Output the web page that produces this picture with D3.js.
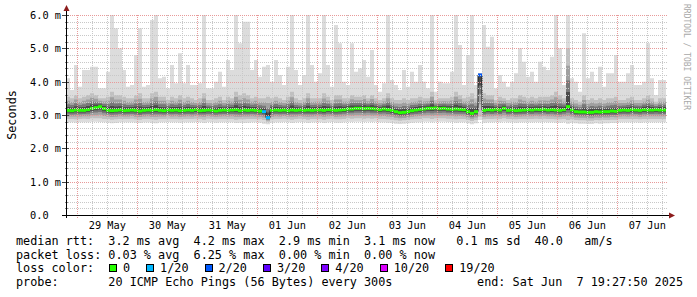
<!DOCTYPE html>
<html lang="en">
<head>
<meta charset="UTF-8">
<title>SmokePing median rtt</title>
<style>
  html, body { margin: 0; background: #fff; }
  text { font-family: 'DejaVu Sans Mono', monospace; fill: #000; white-space: pre; }
</style>
</head>
<body>
<svg id="chart" width="697" height="297" viewBox="0 0 697 297"></svg>
<script src="https://d3js.org/d3.v7.min.js"></script>
<script>

// time window: 10 days ending at the graph end time, columns of 96 minutes
const endTime = new Date(Date.UTC(2025, 5, 7, 19, 27, 50));
const startTime = new Date(endTime.getTime() - 10 * 864e5);
const stepMs = 5760 * 1000;

// ping values in ms, one per column
const maxMs = [
  4.1, 3.75, 4.5, 3.85, 4.35, 4.35, 4.45, 4.45, 3.8, 3.8,
  4.3, 6.0, 5.6, 5.0, 4.35, 3.85, 3.9, 4.8, 5.6, 3.85,
  3.9, 5.85, 6.0, 4.1, 4.15, 3.8, 4.5, 3.95, 4.85, 3.95,
  4.5, 3.9, 3.9, 3.95, 6.0, 3.8, 3.8, 4.0, 4.3, 3.85,
  4.65, 4.35, 6.0, 5.15, 5.8, 5.8, 4.35, 4.65, 4.15, 4.45,
  4.5, 4.0, 4.65, 4.2, 3.9, 4.45, 6.0, 4.35, 3.9, 4.2,
  6.0, 4.5, 4.0, 4.25, 6.0, 4.5, 3.85, 5.7, 5.15, 4.0,
  3.9, 5.15, 4.3, 4.4, 4.65, 4.15, 4.95, 3.9, 3.7, 3.95,
  6.0, 4.05, 3.9, 3.75, 4.35, 3.85, 4.3, 4.0, 4.5, 4.0,
  3.8, 6.0, 3.7, 4.0, 3.95, 3.95, 4.3, 6.0, 5.1, 3.9,
  4.8, 6.0, 3.9, 4.25, 5.7, 5.05, 5.35, 3.8, 4.2, 4.0,
  3.85, 4.0, 4.25, 5.0, 4.6, 4.15, 4.3, 4.0, 4.6, 4.45,
  4.35, 4.75, 6.0, 5.0, 3.9, 6.0, 4.1, 4.0, 3.7, 5.45,
  4.1, 4.3, 4.0, 4.45, 3.85, 4.25, 4.25, 4.8, 4.0, 4.0,
  4.25, 4.5, 3.9, 3.9, 4.0, 5.15, 4.1, 3.6, 4.05, 4.05
];
const hiMs = [
  3.55, 3.5, 3.6, 3.5, 3.55, 3.6, 3.65, 3.6, 3.5, 3.5,
  3.55, 3.7, 3.6, 3.6, 3.55, 3.5, 3.5, 3.6, 3.65, 3.5,
  3.5, 3.65, 3.7, 3.55, 3.55, 3.45, 3.55, 3.5, 3.6, 3.5,
  3.55, 3.5, 3.45, 3.5, 3.65, 3.45, 3.45, 3.5, 3.55, 3.45,
  3.55, 3.5, 3.7, 3.6, 3.65, 3.6, 3.5, 3.55, 3.5, 3.5,
  3.55, 3.5, 3.55, 3.5, 3.45, 3.55, 3.7, 3.5, 3.45, 3.5,
  3.65, 3.5, 3.5, 3.5, 3.65, 3.55, 3.45, 3.6, 3.6, 3.5,
  3.5, 3.6, 3.55, 3.55, 3.6, 3.5, 3.6, 3.5, 3.45, 3.5,
  3.65, 3.5, 3.45, 3.45, 3.5, 3.45, 3.5, 3.5, 3.55, 3.5,
  3.5, 3.7, 3.45, 3.5, 3.5, 3.5, 3.55, 3.7, 3.6, 3.5,
  3.55, 3.65, 3.5, 4.25, 3.65, 3.6, 3.6, 3.45, 3.55, 3.5,
  3.45, 3.5, 3.5, 3.6, 3.55, 3.5, 3.55, 3.5, 3.55, 3.55,
  3.55, 3.6, 3.7, 3.6, 3.5, 5.0, 3.5, 3.45, 3.4, 3.6,
  3.45, 3.5, 3.45, 3.5, 3.45, 3.5, 3.5, 3.55, 3.45, 3.45,
  3.5, 3.55, 3.45, 3.45, 3.5, 3.6, 3.5, 3.4, 3.5, 3.5
];
const medMs = [
  3.14, 3.13, 3.15, 3.14, 3.14, 3.16, 3.2, 3.22, 3.25, 3.19,
  3.14, 3.13, 3.14, 3.15, 3.13, 3.14, 3.15, 3.14, 3.12, 3.14,
  3.15, 3.14, 3.16, 3.14, 3.13, 3.15, 3.14, 3.15, 3.13, 3.14,
  3.15, 3.14, 3.16, 3.13, 3.14, 3.15, 3.14, 3.12, 3.14, 3.15,
  3.14, 3.15, 3.16, 3.13, 3.15, 3.14, 3.15, 3.14, 3.12, 3.1,
  2.92, 3.14, 3.15, 3.14, 3.15, 3.13, 3.15, 3.14, 3.15, 3.14,
  3.15, 3.14, 3.15, 3.15, 3.14, 3.16, 3.15, 3.14, 3.15, 3.16,
  3.18, 3.18, 3.2, 3.2, 3.19, 3.2, 3.19, 3.18, 3.16, 3.18,
  3.16, 3.14, 3.1, 3.07, 3.08, 3.1, 3.13, 3.15, 3.17, 3.18,
  3.2, 3.2, 3.21, 3.19, 3.2, 3.18, 3.17, 3.18, 3.17, 3.16,
  3.1, 3.05, 3.1, 4.2, 3.14, 3.16, 3.15, 3.17, 3.15, 3.2,
  3.14, 3.15, 3.13, 3.14, 3.15, 3.16, 3.15, 3.17, 3.16, 3.17,
  3.15, 3.16, 3.15, 3.14, 3.16, 3.25, 3.15, 3.1, 3.09, 3.09,
  3.08, 3.08, 3.1, 3.09, 3.1, 3.1, 3.12, 3.11, 3.14, 3.15,
  3.14, 3.16, 3.15, 3.14, 3.16, 3.15, 3.15, 3.16, 3.15, 3.15
];
const loMs = [
  2.88, 2.88, 2.87, 2.88, 2.89, 2.88, 2.9, 2.9, 2.9, 2.88,
  2.88, 2.86, 2.87, 2.88, 2.88, 2.88, 2.89, 2.87, 2.86, 2.88,
  2.88, 2.87, 2.86, 2.88, 2.88, 2.89, 2.88, 2.88, 2.87, 2.88,
  2.88, 2.88, 2.89, 2.88, 2.86, 2.89, 2.88, 2.87, 2.88, 2.88,
  2.88, 2.88, 2.86, 2.87, 2.87, 2.88, 2.88, 2.88, 2.87, 2.85,
  2.8, 2.87, 2.88, 2.88, 2.89, 2.88, 2.86, 2.88, 2.89, 2.88,
  2.86, 2.88, 2.88, 2.88, 2.86, 2.88, 2.89, 2.87, 2.87, 2.88,
  2.9, 2.89, 2.9, 2.9, 2.89, 2.9, 2.89, 2.9, 2.88, 2.88,
  2.87, 2.86, 2.84, 2.83, 2.84, 2.85, 2.87, 2.88, 2.88, 2.9,
  2.9, 2.88, 2.9, 2.9, 2.9, 2.89, 2.89, 2.87, 2.88, 2.88,
  2.85, 2.82, 2.85, 2.95, 2.87, 2.88, 2.88, 2.89, 2.88, 2.9,
  2.88, 2.88, 2.87, 2.88, 2.88, 2.88, 2.88, 2.89, 2.88, 2.89,
  2.88, 2.88, 2.87, 2.87, 2.88, 2.85, 2.87, 2.85, 2.84, 2.84,
  2.83, 2.83, 2.85, 2.84, 2.85, 2.85, 2.86, 2.86, 2.88, 2.88,
  2.88, 2.88, 2.88, 2.87, 2.88, 2.88, 2.88, 2.88, 2.88, 2.88
];
const minMs = [
  2.78, 2.78, 2.77, 2.78, 2.78, 2.78, 2.8, 2.8, 2.79, 2.78,
  2.77, 2.75, 2.76, 2.78, 2.78, 2.78, 2.78, 2.77, 2.76, 2.78,
  2.78, 2.76, 2.75, 2.78, 2.78, 2.79, 2.78, 2.78, 2.77, 2.78,
  2.78, 2.78, 2.79, 2.78, 2.76, 2.79, 2.78, 2.77, 2.78, 2.78,
  2.78, 2.78, 2.76, 2.77, 2.76, 2.77, 2.78, 2.78, 2.77, 2.74,
  2.72, 2.77, 2.78, 2.78, 2.79, 2.78, 2.76, 2.78, 2.79, 2.78,
  2.76, 2.78, 2.78, 2.78, 2.76, 2.78, 2.79, 2.77, 2.77, 2.78,
  2.8, 2.79, 2.8, 2.8, 2.79, 2.8, 2.79, 2.8, 2.78, 2.78,
  2.77, 2.76, 2.74, 2.73, 2.74, 2.75, 2.77, 2.78, 2.78, 2.8,
  2.8, 2.78, 2.8, 2.8, 2.8, 2.79, 2.79, 2.77, 2.78, 2.78,
  2.75, 2.72, 2.75, 2.85, 2.77, 2.78, 2.78, 2.79, 2.78, 2.8,
  2.78, 2.78, 2.77, 2.78, 2.78, 2.78, 2.78, 2.79, 2.78, 2.79,
  2.78, 2.78, 2.77, 2.77, 2.78, 2.74, 2.77, 2.75, 2.74, 2.74,
  2.73, 2.73, 2.75, 2.74, 2.75, 2.75, 2.76, 2.76, 2.78, 2.78,
  2.78, 2.78, 2.78, 2.77, 2.78, 2.78, 2.78, 2.78, 2.78, 2.78
];
// [column, lost pings out of 20]
const lossEvents = [[49, 1], [50, 1], [103, 2]];

const lossLabels = ["0", "1/20", "2/20", "3/20", "4/20", "10/20", "19/20"];
const lossLevels = [0, 1, 2, 3, 4, 10, 19];
const lossColors = ["#26ff00", "#00b8ff", "#0059ff", "#5e00ff", "#7e00ff", "#dd00ff", "#ff0000"];

const rttLine = "median rtt:  3.2 ms avg  4.2 ms max  2.9 ms min  3.1 ms now   0.1 ms sd  40.0   am/s";
const lossLine = "packet loss: 0.03 % avg  6.25 % max  0.00 % min  0.00 % now";
const probeLine = "probe:       20 ICMP Echo Pings (56 Bytes) every 300s";
const endLine = "end: Sat Jun  7 19:27:50 2025";

const svg = d3.select("#chart");
const pLeft = 66, pRight = 666, pTop = 15, pBottom = 215;

const x = d3.scaleUtc().domain([startTime, endTime]).range([pLeft, pRight]);
const y = d3.scaleLinear().domain([0, 6]).range([pBottom, pTop]);

const lossByCol = new Map(lossEvents);
const cols = medMs.map((m, i) => ({
  t: new Date(startTime.getTime() + i * stepMs),
  max: maxMs[i], hi: hiMs[i], med: m, lo: loMs[i], min: minMs[i],
  loss: lossByCol.get(i) || 0
}));
// repeat last column to close the step at the end time
const pts = cols.concat([Object.assign({}, cols[cols.length - 1], {t: endTime})]);

svg.append("defs").append("clipPath").attr("id", "plot")
  .append("rect").attr("x", pLeft).attr("y", pTop).attr("width", pRight - pLeft).attr("height", pBottom - pTop);

const plot = svg.append("g").attr("clip-path", "url(#plot)");

// outer smoke: min to max
plot.append("path").datum(pts)
  .attr("fill", "#dcdcdc")
  .attr("d", d3.area().curve(d3.curveStepAfter)
    .x(d => x(d.t)).y0(d => y(d.min)).y1(d => y(d.max)));

// inner smoke layers, darker towards the median
const layers = [
  {f: 1, c: "#c0c0c0"},
  {f: 0.7, c: "#a0a0a0"},
  {f: 0.45, c: "#787878"},
  {f: 0.25, c: "#4a4a4a"}
];
layers.forEach(l => {
  plot.append("path").datum(pts)
    .attr("fill", l.c)
    .attr("d", d3.area().curve(d3.curveStepAfter)
      .x(d => x(d.t))
      .y0(d => y(d.med - l.f * (d.med - d.lo)))
      .y1(d => y(d.med + l.f * (d.hi - d.med))));
});

// median line
plot.append("path").datum(pts)
  .attr("fill", "none").attr("stroke", "#202020").attr("stroke-width", 1)
  .attr("d", d3.line().curve(d3.curveStepAfter).x(d => x(d.t)).y(d => y(d.med)));

function lossColor(n) {
  let c = lossColors[0];
  lossLevels.forEach((lv, i) => { if (n >= lv) c = lossColors[i]; });
  return c;
}

plot.selectAll("rect.med").data(cols).join("rect")
  .attr("class", "med")
  .attr("x", d => x(d.t))
  .attr("width", d => x(new Date(d.t.getTime() + stepMs)) - x(d.t))
  .attr("y", d => y(d.med) - 1.5)
  .attr("height", 3)
  .attr("fill", d => lossColor(d.loss));

// grid on top, dotted
const grid = svg.append("g").attr("shape-rendering", "crispEdges");
const yMajor = y.ticks(6);
const yMinor = d3.range(0, 6.001, 0.2).filter(v => Math.abs(v - Math.round(v)) > 0.01);
const xMajor = d3.utcDay.range(startTime, endTime);
const xMinor = d3.utcHour.every(6).range(startTime, endTime).filter(d => d.getUTCHours() !== 0);

grid.selectAll("line.ymin").data(yMinor).join("line")
  .attr("x1", pLeft).attr("x2", pRight + 2)
  .attr("y1", d => Math.round(y(d)) + 0.5).attr("y2", d => Math.round(y(d)) + 0.5)
  .attr("stroke", "#c8c8c8").attr("stroke-dasharray", "1,1");
grid.selectAll("line.xmin").data(xMinor).join("line")
  .attr("y1", pTop).attr("y2", pBottom + 3)
  .attr("x1", d => Math.round(x(d)) + 0.5).attr("x2", d => Math.round(x(d)) + 0.5)
  .attr("stroke", "#c8c8c8").attr("stroke-dasharray", "1,1");
grid.selectAll("line.ymaj").data(yMajor.filter(v => v > 0)).join("line")
  .attr("x1", pLeft).attr("x2", pRight + 2)
  .attr("y1", d => Math.round(y(d)) + 0.5).attr("y2", d => Math.round(y(d)) + 0.5)
  .attr("stroke", "#e89a9a").attr("stroke-dasharray", "1,1");
grid.selectAll("line.xmaj").data(xMajor).join("line")
  .attr("y1", pTop).attr("y2", pBottom + 3)
  .attr("x1", d => Math.round(x(d)) + 0.5).attr("x2", d => Math.round(x(d)) + 0.5)
  .attr("stroke", "#e89a9a").attr("stroke-dasharray", "1,1");

// axis ticks on the left
grid.selectAll("line.ytick").data(yMajor).join("line")
  .attr("x1", pLeft - 4).attr("x2", pLeft + 3)
  .attr("y1", d => Math.round(y(d)) + 0.5).attr("y2", d => Math.round(y(d)) + 0.5)
  .attr("stroke", "#444");
grid.selectAll("line.ymtick").data(yMinor).join("line")
  .attr("x1", pLeft - 1).attr("x2", pLeft + 2)
  .attr("y1", d => Math.round(y(d)) + 0.5).attr("y2", d => Math.round(y(d)) + 0.5)
  .attr("stroke", "#888");

// axis lines and arrows
svg.append("line").attr("x1", pLeft + 0.5).attr("x2", pLeft + 0.5).attr("y1", pBottom + 3).attr("y2", 9)
  .attr("stroke", "#000").attr("shape-rendering", "crispEdges");
svg.append("line").attr("x1", pLeft - 4).attr("x2", pRight + 4).attr("y1", pBottom + 0.5).attr("y2", pBottom + 0.5)
  .attr("stroke", "#000").attr("shape-rendering", "crispEdges");
svg.append("path").attr("d", `M${pLeft - 2.5},11 L${pLeft + 3.5},11 L${pLeft + 0.5},5 Z`).attr("fill", "#8c1c1c");
svg.append("path").attr("d", `M${pRight + 3},${pBottom - 2.5} L${pRight + 3},${pBottom + 3.5} L${pRight + 9},${pBottom + 0.5} Z`).attr("fill", "#8c1c1c");

// axis labels
const yFmt = d3.format(".1f");
svg.selectAll("text.ylab").data(yMajor).join("text")
  .attr("x", 30).attr("y", d => y(d) + 4)
  .style("font-size", "10.3px")
  .text(d => d === 0 ? "0.0" : yFmt(d) + " m");

const dayFmt = d3.utcFormat("%d %b");
const noons = xMajor.map(d => new Date(d.getTime() + 12 * 36e5)).filter(d => d < endTime);
svg.selectAll("text.xlab").data(noons).join("text")
  .attr("x", d => x(d)).attr("y", 228.5)
  .attr("text-anchor", "middle")
  .style("font-size", "10.3px")
  .text(d => dayFmt(d));

svg.append("text")
  .attr("transform", "translate(15.5,115) rotate(-90)")
  .attr("text-anchor", "middle")
  .style("font-size", "11.8px")
  .text("Seconds");

svg.append("text")
  .attr("transform", "translate(684,4) rotate(90)")
  .style("font-size", "8px").style("fill", "#a8a8a8")
  .text("RRDTOOL / TOBI OETIKER");

// legend
const lx = 16, lh = 13.7, fs = "11.8px", cw = 7.1;
svg.append("text").attr("x", lx).attr("y", 245).style("font-size", fs).text(rttLine);
svg.append("text").attr("x", lx).attr("y", 245 + lh).style("font-size", fs).text(lossLine);
const ly = 245 + 2 * lh;
svg.append("text").attr("x", lx).attr("y", ly).style("font-size", fs).text("loss color:");
let bx = 109;
lossLabels.forEach((lab, i) => {
  svg.append("rect").attr("x", bx + 0.5).attr("y", ly - 7.5).attr("width", 7).attr("height", 7)
    .attr("fill", lossColors[i]).attr("stroke", "#000").attr("shape-rendering", "crispEdges");
  svg.append("text").attr("x", bx + 14).attr("y", ly).style("font-size", fs).text(lab);
  bx = bx + 14 + lab.length * cw + 16;
});
svg.append("text").attr("x", lx).attr("y", 245 + 3 * lh).style("font-size", fs).text(probeLine);
svg.append("text").attr("x", 683).attr("y", 245 + 3 * lh).attr("text-anchor", "end").style("font-size", fs).text(endLine);

</script>
</body>
</html>
